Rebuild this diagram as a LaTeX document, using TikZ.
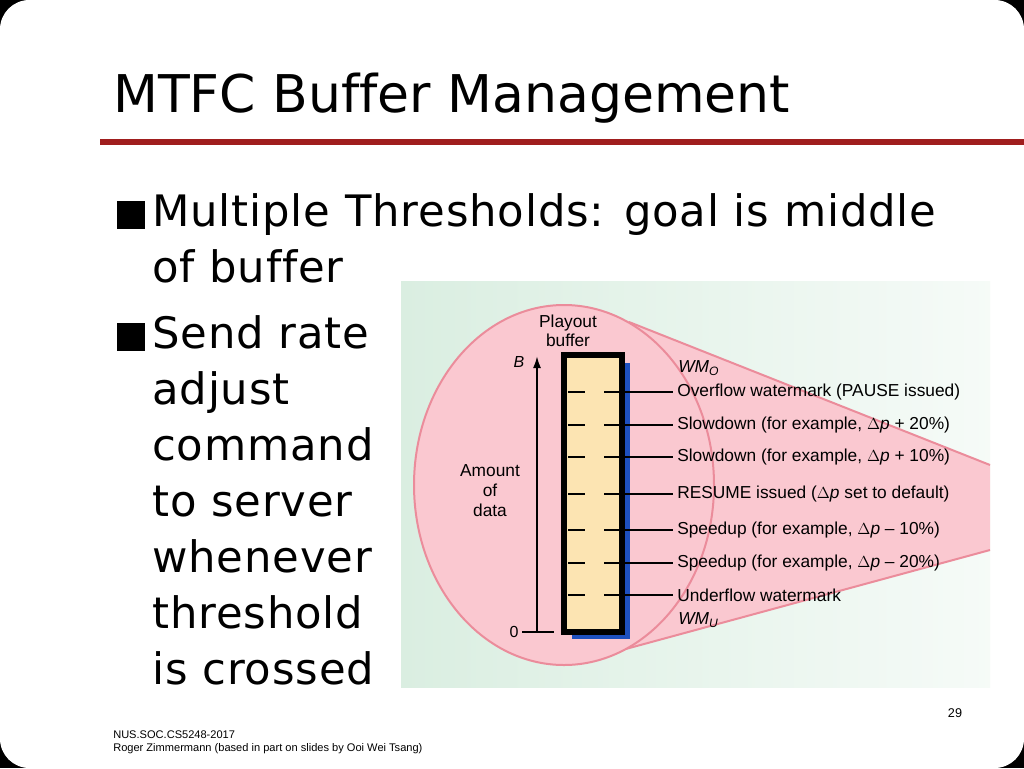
\documentclass[tikz,border=0pt]{standalone}
\usepackage{fontspec}
\setmainfont[Ligatures=NoCommon, LetterSpace=2]{DejaVu Sans}
\newfontfamily\titlefont[Ligatures=NoCommon]{DejaVu Sans}
\newfontfamily\arialfont{Liberation Sans}
\usetikzlibrary{positioning, arrows.meta}
\definecolor{slide_red}{RGB}{160, 30, 30}
\definecolor{ell_pink}{RGB}{250, 200, 208}
\definecolor{ell_edge}{RGB}{235, 140, 155}
\definecolor{buf_fill}{RGB}{252, 228, 178}
\definecolor{buf_blue}{RGB}{30, 80, 190}
\definecolor{img_green}{RGB}{218, 238, 225}
\newcommand{\deltap}{{\arialfont$\Delta$\textit{p}}}
\tikzset {
  bullet/.style = {fill=black, minimum size=21pt, inner sep=0, rectangle},
  btext/.style = {font=\fontsize{32.5}{42}\selectfont, anchor=west, inner sep=0, align=left},
  lbl/.style = {font=\arialfont\fontsize{13}{14}\selectfont, anchor=west, inner sep=0},
  tick/.style = {line width=2pt},
  foot/.style = {font=\arialfont\fontsize{8.3}{10}\selectfont, anchor=west, inner sep=0}
}
\begin{document}
\begin{tikzpicture}[x=0.75pt, y=-0.75pt]
    \useasboundingbox (0,0) rectangle (1024,768);
    \fill[black] (0,0) rectangle (1024,768);
    \fill[white, rounded corners=22pt] (0,0) rectangle (1024,768);

    % title and rule
    \node[font=\titlefont\fontsize{39}{44}\selectfont, anchor=west, inner sep=0] (title) at (113,98) {MTFC Buffer Management};
    \draw[slide_red, line width=4pt] (100,142) -- (1024,142);

    % bullets
    \node[bullet] (b1) at (131,215) {};
    \node[btext, anchor=north west] (t1) at (152,193) {Multiple Thresholds: goal is middle\\of buffer};
    \node[bullet] (b2) at (131,337) {};
    \node[btext, anchor=north west] (t2) at (152,315) {Send rate\\adjust\\command\\to server\\whenever\\threshold\\is crossed};

    % picture panel
    \shade[left color=img_green, right color=img_green!25] (401,281) rectangle (990,687);
    \fill[ell_pink] (629,322) -- (990,465) -- (990,550) -- (622,650) -- cycle;
    \draw[ell_edge, line width=1.5pt] (629,322) -- (990,465);
    \draw[ell_edge, line width=1.5pt] (622,650) -- (990,550);
    \draw[ell_edge, fill=ell_pink, line width=1.5pt] (564,485) ellipse [x radius=150, y radius=180];

    % buffer
    \fill[buf_blue] (572,363) rectangle (630,639);
    \draw[line width=4pt, fill=buf_fill] (564,355) rectangle (622,632);
    \node[font=\arialfont\fontsize{13}{14}\selectfont, align=center, inner sep=0] (playout) at (568,331) {Playout\\buffer};

    % axis
    \draw[line width=1.5pt, -{Latex[length=9pt, width=6pt]}] (537,632) -- (537,356);
    \draw[line width=1.5pt] (522,632) -- (554,632);
    \node[font=\arialfont\fontsize{12}{14}\selectfont, inner sep=0] (zero) at (514,632) {0};
    \node[font=\arialfont\itshape\fontsize{12}{14}\selectfont, inner sep=0] (bmax) at (519,362) {B};
    \node[font=\arialfont\fontsize{13}{15}\selectfont, align=center, inner sep=0] (amount) at (490,491) {Amount\\of\\data};

    % thresholds
    \foreach \yy/\txt [count=\i] in {392/{Overflow watermark (PAUSE issued)},
        425/{Slowdown (for example, \deltap\ + 20\%)},
        457/{Slowdown (for example, \deltap\ + 10\%)},
        494/{RESUME issued (\deltap\ set to default)},
        530/{Speedup (for example, \deltap\ – 10\%)},
        563/{Speedup (for example, \deltap\ – 20\%)},
        595/{Underflow watermark}} {
      \node[lbl] (th\i) at (677,\yy) {\txt};
      \draw[tick] (568,\yy) -- (585,\yy);
      \draw[tick] (604,\yy) -- ([xshift=-3pt]th\i.west);
    }
    \node[lbl, font=\arialfont\itshape\fontsize{13}{14}\selectfont] (wmo) at (678,368) {WM\textsubscript{O}};
    \node[lbl, font=\arialfont\itshape\fontsize{13}{14}\selectfont] (wmu) at (678,620) {WM\textsubscript{U}};

    % footer
    \node[font=\arialfont\fontsize{9.5}{11}\selectfont, inner sep=0] (page) at (955,713) {29};
    \node[foot] (f1) at (113,735) {NUS.SOC.CS5248-2017};
    \node[foot] (f2) at (113,749) {Roger Zimmermann (based in part on slides by Ooi Wei Tsang)};
\end{tikzpicture}
\end{document}
